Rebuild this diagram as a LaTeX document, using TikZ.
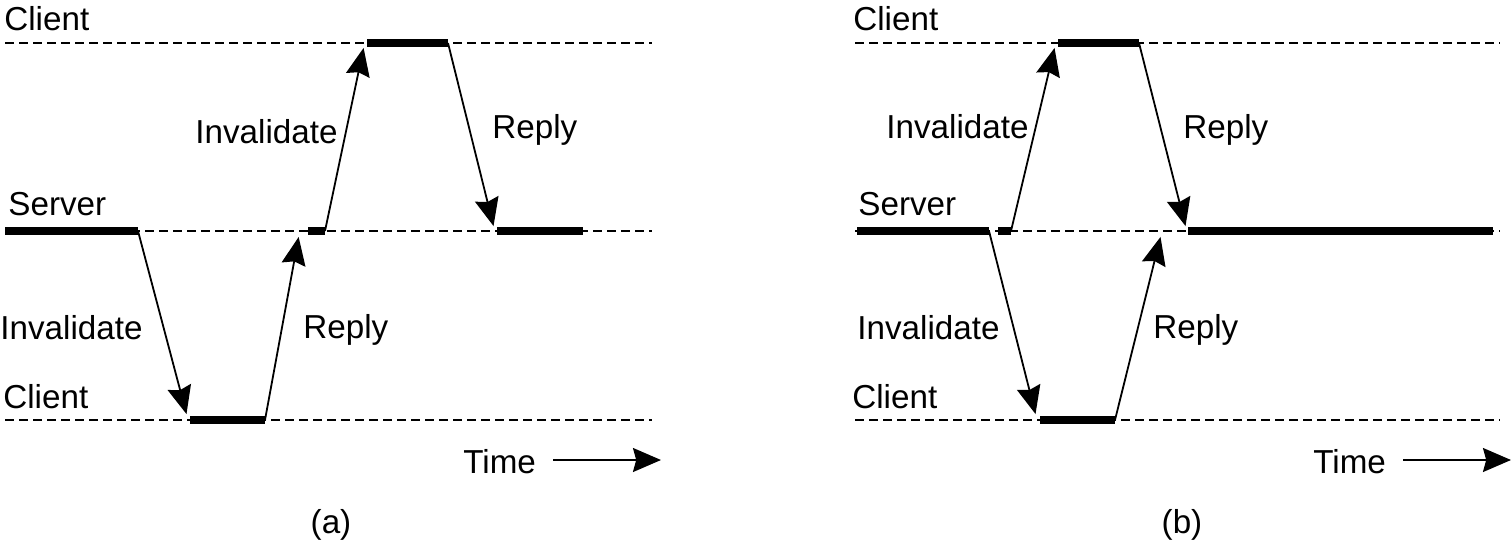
\documentclass[tikz,border=0pt]{standalone}
\usepackage{fontspec}
\setmainfont{Liberation Sans}
\usetikzlibrary{arrows.meta}

\begin{document}
\begin{tikzpicture}[x=0.5pt,y=-0.5pt,>={Stealth[length=14pt,width=12pt,inset=1.6pt]},
    line join=miter,
    timeline/.style={dash pattern=on 4.5pt off 2.5pt,line width=.75pt},
    busy/.style={line width=3.6pt},
    msg/.style={->,line width=.9pt,shorten >=1pt},
    lbl/.style={font=\fontsize{16.6}{19}\selectfont,inner sep=0pt}]
    \useasboundingbox (0,0) rectangle (1512,546);

    % Panel (a): time lines.
    \draw[timeline] (5,43) -- (652,43);
    \draw[timeline] (5,231) -- (652,231);
    \draw[timeline] (5,420) -- (652,420);
    \node[lbl,anchor=base west] (aClientTop) at (4,31) {Client};
    \node[lbl,anchor=base west] (aServer) at (8,215) {Server};
    \node[lbl,anchor=base west] (aClientBot) at (3,408) {Client};

    % Panel (a): busy periods.
    \draw[busy] (5,231) coordinate (aS0) -- (138,231) coordinate (aS1);
    \draw[busy] (308,231) coordinate (aS2) -- (325,231) coordinate (aS3);
    \draw[busy] (497,231) coordinate (aS4) -- (583,231) coordinate (aS5);
    \draw[busy] (190,420) coordinate (aB0) -- (265,420) coordinate (aB1);
    \draw[busy] (367,43) coordinate (aT0) -- (448,43) coordinate (aT1);

    % Panel (a): messages.
    \coordinate (aB0tip) at (187,416);
    \coordinate (aS2tip) at (299,235);
    \coordinate (aT0tip) at (364,46);
    \coordinate (aS4tip) at (494,228);
    \draw[msg] (aS1) -- (aB0tip);
    \draw[msg] (aB1) -- (aS2tip);
    \draw[msg] (aS3) -- (aT0tip);
    \draw[msg] (aT1) -- (aS4tip);
    \node[lbl,anchor=base west] (aInvBot) at (0,339) {Invalidate};
    \node[lbl,anchor=base west] (aRepBot) at (303,338) {Reply};
    \node[lbl,anchor=base west] (aInvTop) at (195,143) {Invalidate};
    \node[lbl,anchor=base west] (aRepTop) at (492,138) {Reply};

    % Panel (a): time axis.
    \node[lbl,anchor=base west] (aTime) at (463,473) {Time};
    \coordinate (aTimeL) at (553,460);
    \coordinate (aTimeR) at (661,460);
    \draw[->,line width=.9pt] (aTimeL) -- (aTimeR);
    \node[lbl] (aCap) at (331,525) {(a)};

    % Panel (b): time lines.
    \draw[timeline] (855,43) -- (1500,43);
    \draw[timeline] (855,231) -- (1500,231);
    \draw[timeline] (855,420) -- (1500,420);
    \node[lbl,anchor=base west] (bClientTop) at (853,31) {Client};
    \node[lbl,anchor=base west] (bServer) at (858,215) {Server};
    \node[lbl,anchor=base west] (bClientBot) at (852,408) {Client};

    % Panel (b): busy periods.
    \draw[busy] (857,231) coordinate (bS0) -- (989,231) coordinate (bS1);
    \draw[busy] (998,231) coordinate (bS2) -- (1011,231) coordinate (bS3);
    \draw[busy] (1188,231) coordinate (bS4) -- (1493,231) coordinate (bS5);
    \draw[busy] (1040,420) coordinate (bB0) -- (1115,420) coordinate (bB1);
    \draw[busy] (1058,43) coordinate (bT0) -- (1139,43) coordinate (bT1);

    % Panel (b): messages.
    \coordinate (bB0tip) at (1036,416);
    \coordinate (bStip) at (1161,235);
    \coordinate (bT0tip) at (1055,46);
    \coordinate (bS4tip) at (1186,228);
    \draw[msg] (bS1) -- (bB0tip);
    \draw[msg] (bB1) -- (bStip);
    \draw[msg] (bS3) -- (bT0tip);
    \draw[msg] (bT1) -- (bS4tip);
    \node[lbl,anchor=base west] (bInvBot) at (857,339) {Invalidate};
    \node[lbl,anchor=base west] (bRepBot) at (1153,338) {Reply};
    \node[lbl,anchor=base west] (bInvTop) at (886,138) {Invalidate};
    \node[lbl,anchor=base west] (bRepTop) at (1183,138) {Reply};

    % Panel (b): time axis.
    \node[lbl,anchor=base west] (bTime) at (1313,473) {Time};
    \coordinate (bTimeL) at (1403,460);
    \coordinate (bTimeR) at (1511,460);
    \draw[->,line width=.9pt] (bTimeL) -- (bTimeR);
    \node[lbl] (bCap) at (1182,525) {(b)};
\end{tikzpicture}
\end{document}
